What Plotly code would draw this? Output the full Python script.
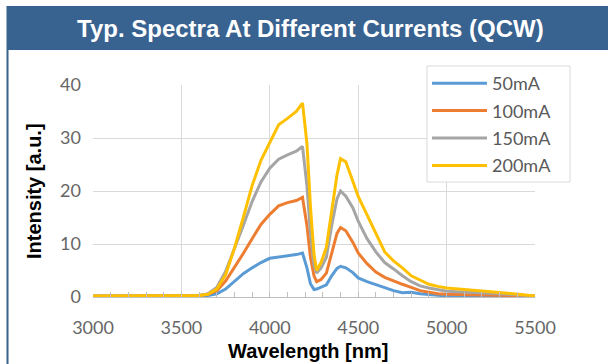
import plotly.graph_objects as go

wavelength = [3000, 3300, 3600, 3650, 3700, 3750, 3800, 3850, 3900, 3950,
              4000, 4050, 4100, 4150, 4185, 4210, 4230, 4250, 4265, 4290,
              4320, 4350, 4380, 4400, 4430, 4470, 4500, 4550, 4600, 4650,
              4700, 4750, 4800, 4850, 4900, 4950, 5000, 5250, 5500]

i_50mA = [0.1, 0.1, 0.2, 0.3, 0.6, 1.5, 3.0, 4.4, 5.5, 6.5,
          7.3, 7.5, 7.8, 8.0, 8.3, 5.5, 2.5, 1.4, 1.5, 1.9,
          2.3, 4.0, 5.4, 5.8, 5.5, 4.6, 3.6, 2.9, 2.3, 1.7,
          1.2, 0.8, 0.9, 0.6, 0.5, 0.3, 0.2, 0.1, 0.1]

i_100mA = [0.2, 0.2, 0.3, 0.5, 1.2, 3.0, 5.5, 8.2, 11.0, 13.7,
           15.6, 17.2, 17.8, 18.2, 18.8, 13.5, 7.5, 4.0, 2.9, 3.3,
           4.5, 8.0, 12.0, 13.1, 12.5, 10.3, 8.3, 6.3, 4.7, 3.7,
           3.0, 2.4, 1.8, 1.2, 0.9, 0.6, 0.5, 0.3, 0.2]

i_150mA = [0.2, 0.2, 0.3, 0.6, 1.8, 4.8, 9.0, 13.5, 18.0, 21.7,
           24.3, 26.0, 26.8, 27.5, 28.4, 21.0, 12.0, 6.0, 4.5, 5.5,
           7.5, 13.5, 18.5, 20.0, 19.0, 16.8, 14.3, 11.0, 8.5, 6.5,
           5.3, 4.0, 2.9, 2.1, 1.7, 1.4, 1.1, 0.7, 0.2]

i_200mA = [0.2, 0.2, 0.3, 0.5, 1.5, 4.2, 9.2, 15.0, 21.0, 25.8,
           29.3, 32.5, 33.7, 35.0, 36.6, 29.0, 17.0, 8.0, 5.0, 6.5,
           9.4, 16.5, 23.0, 26.1, 25.5, 21.8, 19.0, 15.5, 12.0, 8.5,
           6.8, 5.5, 4.0, 3.2, 2.4, 2.0, 1.7, 1.0, 0.2]

series = [("50mA", i_50mA, "#5B9BD5"),
          ("100mA", i_100mA, "#ED7D31"),
          ("150mA", i_150mA, "#A5A5A5"),
          ("200mA", i_200mA, "#FFC000")]

x_ticks = [3000, 3500, 4000, 4500, 5000, 5500]
y_ticks = [0, 10, 20, 30, 40]

title_text = "Typ. Spectra At Different Currents (QCW)"
x_title = "Wavelength [nm]"
y_title = "Intensity [a.u.]"

W, H = 608, 364
ML, MR, MT, MB = 93, 73, 85, 67
PW = W - ML - MR
PH = H - MT - MB


def px_x(px):
    return (px - ML) / PW


def px_y(py):
    return (H - MB - py) / PH


fig = go.Figure()
for name, vals, color in series:
    fig.add_trace(go.Scatter(x=wavelength, y=vals, mode="lines", name=name,
                             legendgroup=name,
                             line=dict(color=color, width=3)))

tick_font = dict(family="Lato, sans-serif", size=18, color="#666666")

fig.update_layout(
    width=W, height=H,
    margin=dict(l=ML, r=MR, t=MT, b=MB),
    paper_bgcolor="white", plot_bgcolor="white",
    showlegend=True,
    legend=dict(x=px_x(427), y=px_y(65), xanchor="left", yanchor="top",
                borderwidth=0, bgcolor="rgba(0,0,0,0)",
                font=dict(family="Lato, sans-serif", size=18, color="#595959"),
                itemwidth=55, tracegroupgap=1),
    xaxis=dict(range=[3000, 5500], tickvals=x_ticks, showgrid=True,
               gridcolor="#D9D9D9", gridwidth=1, showline=True,
               linecolor="#BFBFBF", linewidth=1, zeroline=False,
               ticks="inside", ticklen=5, tickcolor="#BFBFBF",
               minor=dict(dtick=100, tick0=3000, ticks="inside", ticklen=5,
                          tickcolor="#BFBFBF", showgrid=False),
               tickfont=tick_font, ticklabelstandoff=14),
    yaxis=dict(range=[0, 40], tickvals=y_ticks, showgrid=True,
               gridcolor="#D9D9D9", gridwidth=1, zeroline=False,
               showline=False, tickfont=tick_font, ticklabelstandoff=11),
    shapes=[
        dict(type="rect", xref="paper", yref="paper",
             x0=px_x(6.5), x1=px_x(609), y0=px_y(50), y1=px_y(6),
             fillcolor="#386290", line=dict(width=0), layer="above"),
        dict(type="line", xref="paper", yref="paper",
             x0=px_x(7.5), x1=px_x(7.5), y0=px_y(50), y1=px_y(365),
             line=dict(color="#386290", width=2)),
        dict(type="rect", xref="paper", yref="paper",
             x0=px_x(427), x1=px_x(570), y0=px_y(182), y1=px_y(66),
             fillcolor="white", line=dict(color="#D9D9D9", width=1),
             layer="above"),
    ],
    annotations=[
        dict(text="<b>" + title_text + "</b>", xref="paper", yref="paper",
             x=px_x(310), y=px_y(28), xanchor="center", yanchor="middle",
             showarrow=False,
             font=dict(family="Liberation Sans, Arial, sans-serif", size=24,
                       color="white")),
        dict(text="<b>" + x_title + "</b>", xref="paper", yref="paper",
             x=px_x(308), y=px_y(351), xanchor="center", yanchor="middle",
             showarrow=False,
             font=dict(family="Liberation Sans, Arial, sans-serif", size=20,
                       color="black")),
        dict(text="<b>" + y_title + "</b>", xref="paper", yref="paper",
             x=px_x(34), y=px_y(191), xanchor="center", yanchor="middle",
             showarrow=False, textangle=-90,
             font=dict(family="Liberation Sans, Arial, sans-serif", size=20,
                       color="black")),
    ],
)

fig.write_html("out.html",
               config={"displayModeBar": False},
               post_script="document.body.style.margin='0';"
                           "document.body.style.overflow='hidden';")
